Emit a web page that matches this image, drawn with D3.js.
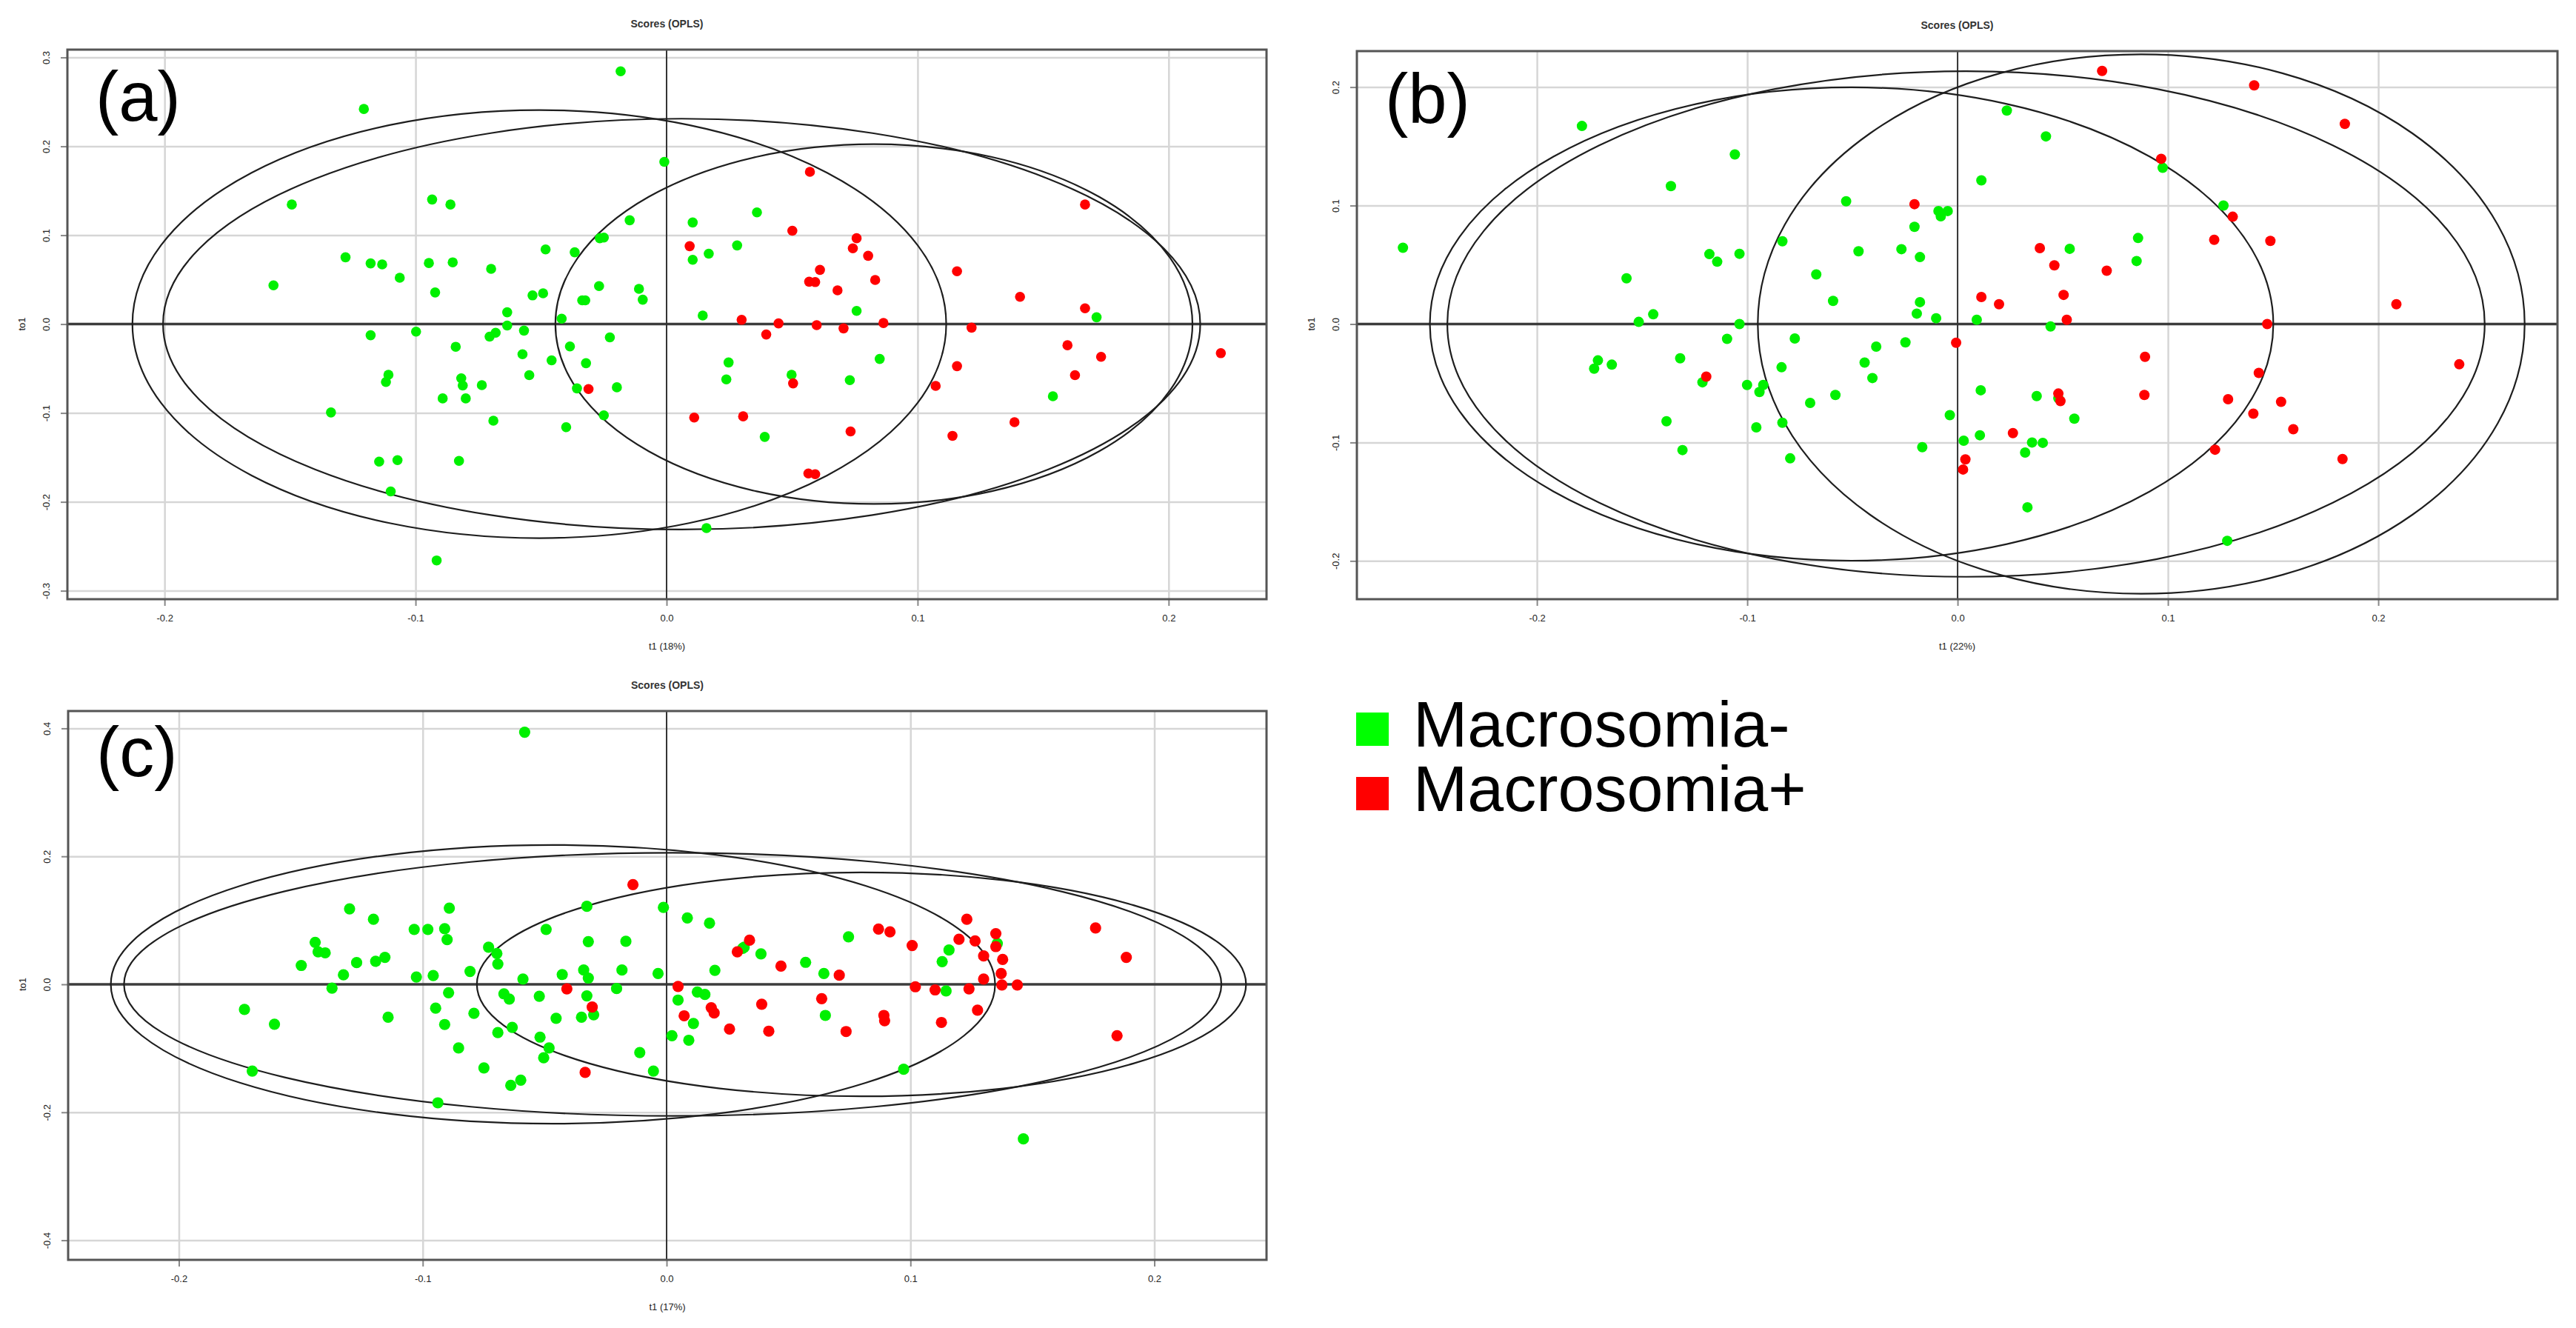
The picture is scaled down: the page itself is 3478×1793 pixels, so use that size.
<!DOCTYPE html>
<html>
<head>
<meta charset="utf-8">
<script src="https://cdn.jsdelivr.net/npm/d3@7/dist/d3.min.js"></script>
<style>
  body { margin: 0; background: #fff; }
  text { font-family: "Liberation Sans", Arial, sans-serif; }
</style>
</head>
<body>
<svg id="fig" width="3478" height="1793"></svg>
<script>
// ---- values: [t1, to1] ----
var aGreen = [[-0.0183,0.2844],[-0.1206,0.2420],[-0.0009,0.1826],[-0.1493,0.1345],[-0.0934,0.1402],[-0.0861,0.1345],
  [0.0360,0.1257],[-0.0147,0.1168],[0.0104,0.1143],[-0.0250,0.0974],[-0.0266,0.0966],[0.0281,0.0885],[-0.0482,0.0840],
  [-0.0366,0.0808],[0.0168,0.0792],[0.0104,0.0723],[-0.1279,0.0752],[-0.1179,0.0683],[-0.1133,0.0671],[-0.0947,0.0687],
  [-0.0852,0.0695],[-0.0699,0.0622],[-0.1063,0.0521],[-0.1566,0.0436],[-0.0922,0.0356],[-0.0534,0.0323],[-0.0492,0.0347],
  [-0.0269,0.0428],[-0.0110,0.0396],[-0.0095,0.0275],[-0.0336,0.0267],[-0.0324,0.0267],[-0.0635,0.0133],[-0.0418,0.0061],
  [0.0144,0.0097],[-0.0635,-0.0016],[-0.0568,-0.0073],[0.0757,0.0149],[0.1713,0.0077],[-0.1179,-0.0125],[-0.0998,-0.0085],
  [-0.0705,-0.0141],[-0.0681,-0.0097],[-0.0840,-0.0255],[-0.0385,-0.0251],[-0.0226,-0.0149],[-0.0574,-0.0339],
  [-0.0458,-0.0408],[-0.0321,-0.0440],[0.0247,-0.0432],[0.0849,-0.0392],[-0.1108,-0.0570],[-0.1118,-0.0651],
  [-0.0818,-0.0610],[-0.0812,-0.0691],[-0.0736,-0.0687],[-0.0547,-0.0574],[-0.0357,-0.0723],[-0.0198,-0.0711],
  [0.0238,-0.0622],[0.0498,-0.0570],[0.0730,-0.0630],[-0.0892,-0.0836],[-0.0800,-0.0836],[-0.1337,-0.0994],
  [-0.0690,-0.1087],[-0.0400,-0.1160],[-0.0250,-0.1026],[0.0391,-0.1269],[0.1539,-0.0812],[-0.1145,-0.1547],
  [-0.1072,-0.1531],[-0.0827,-0.1539],[-0.1099,-0.1883],[0.0159,-0.2295],[-0.0916,-0.2659]];
var aRed = [[0.0571,0.1713],[0.1667,0.1345],[0.0501,0.1051],[0.0757,0.0966],[0.0742,0.0853],[0.0092,0.0877],
  [0.0803,0.0768],[0.0611,0.0610],[0.0568,0.0477],[0.0592,0.0473],[0.0831,0.0497],[0.0681,0.0380],[0.1157,0.0594],
  [0.1408,0.0307],[0.1667,0.0178],[0.0299,0.0048],[0.0446,0.0008],[0.0598,-0.0012],[0.0705,-0.0048],[0.0864,0.0012],
  [0.1215,-0.0040],[0.0397,-0.0117],[0.1597,-0.0238],[0.1731,-0.0368],[0.2208,-0.0327],[0.1157,-0.0473],
  [0.1627,-0.0574],[0.0504,-0.0667],[0.1072,-0.0695],[-0.0311,-0.0731],[0.0110,-0.1051],[0.0305,-0.1038],
  [0.0733,-0.1208],[0.1386,-0.1103],[0.1139,-0.1257],[0.0565,-0.1681],[0.0592,-0.1689]];

var bGreen = [[-0.2637,0.0644],[-0.1786,0.1672],[-0.1059,0.1432],[-0.1363,0.1164],[0.0234,0.1802],[0.0420,0.1584],
  [0.0113,0.1213],[0.0975,0.1319],[-0.0530,0.1036],[-0.0091,0.0954],[-0.0047,0.0954],[-0.0080,0.0909],[-0.0205,0.0821],
  [0.1264,0.1000],[-0.0833,0.0699],[-0.0471,0.0614],[-0.0267,0.0632],[-0.0179,0.0565],[0.0533,0.0635],[0.0858,0.0726],
  [0.0851,0.0532],[-0.1180,0.0590],[-0.1143,0.0526],[-0.1037,0.0593],[-0.1574,0.0386],[-0.0672,0.0419],[-0.0592,0.0195],
  [-0.0179,0.0185],[-0.0194,0.0088],[-0.0102,0.0049],[0.0091,0.0036],[-0.1447,0.0082],[-0.1516,0.0018],[-0.1037,0.0000],
  [0.0442,-0.0021],[-0.1096,-0.0125],[-0.0774,-0.0122],[-0.0387,-0.0191],[-0.0248,-0.0155],[-0.1319,-0.0289],
  [-0.1710,-0.0307],[-0.1728,-0.0377],[-0.1644,-0.0343],[-0.0837,-0.0365],[-0.0442,-0.0325],[-0.0405,-0.0456],
  [-0.1213,-0.0492],[-0.1001,-0.0514],[-0.0924,-0.0514],[-0.0942,-0.0574],[-0.0581,-0.0599],[-0.0701,-0.0666],
  [0.0110,-0.0559],[0.0376,-0.0608],[0.0479,-0.0626],[-0.1384,-0.0821],[-0.0957,-0.0872],[-0.0833,-0.0833],
  [-0.0037,-0.0769],[0.0555,-0.0799],[-0.1308,-0.1064],[-0.0796,-0.1134],[-0.0168,-0.1040],[0.0029,-0.0985],
  [0.0106,-0.0939],[0.0354,-0.1000],[0.0405,-0.1003],[0.0321,-0.1085],[0.0332,-0.1547],[0.1282,-0.1830]];
var bRed = [[0.0687,0.2137],[0.1410,0.2015],[0.1841,0.1690],[0.0968,0.1395],[-0.0205,0.1012],[0.1308,0.0906],
  [0.1220,0.0711],[0.1487,0.0702],[0.0391,0.0641],[0.0460,0.0495],[0.0709,0.0450],[0.0113,0.0228],[0.0197,0.0167],
  [0.0504,0.0246],[0.0519,0.0036],[0.2086,0.0167],[0.1472,0.0000],[-0.0007,-0.0158],[0.0891,-0.0277],[0.2385,-0.0340],
  [0.1432,-0.0413],[-0.1195,-0.0444],[0.0479,-0.0587],[0.0489,-0.0650],[0.0888,-0.0599],[0.1286,-0.0635],
  [0.1538,-0.0657],[0.1406,-0.0757],[0.1596,-0.0888],[0.0263,-0.0921],[0.1224,-0.1061],[0.0037,-0.1143],
  [0.0026,-0.1228],[0.1830,-0.1140]];

var cGreen = [[-0.0582,0.3940],[-0.1300,0.1180],[-0.0891,0.1191],[-0.0327,0.1219],[-0.0013,0.1202],[-0.1202,0.1016],
  [0.0085,0.1038],[0.0176,0.0956],[-0.1035,0.0858],[-0.0979,0.0858],[-0.0910,0.0869],[-0.0494,0.0858],[-0.0900,0.0699],
  [-0.0321,0.0667],[-0.0167,0.0672],[0.0746,0.0743],[-0.1441,0.0656],[-0.1429,0.0508],[-0.1400,0.0492],[-0.0730,0.0579],
  [-0.0696,0.0481],[-0.0692,0.0317],[-0.1271,0.0339],[-0.1193,0.0361],[-0.1155,0.0421],[-0.1498,0.0295],[-0.1325,0.0148],
  [-0.1026,0.0115],[-0.0957,0.0137],[-0.0806,0.0202],[-0.0589,0.0082],[-0.0428,0.0153],[-0.0340,0.0224],[-0.0321,0.0098],
  [-0.0183,0.0224],[-0.0035,0.0169],[0.0198,0.0219],[0.0312,0.0563],[0.0318,0.0579],[0.0387,0.0475],[0.0570,0.0344],
  [0.0645,0.0169],[0.1158,0.0536],[0.1130,0.0355],[0.1356,0.0639],[-0.1372,-0.0060],[-0.0894,-0.0131],[-0.0667,-0.0148],
  [-0.0645,-0.0230],[-0.0522,-0.0186],[-0.0327,-0.0180],[-0.0205,-0.0066],[0.0047,-0.0246],[0.0126,-0.0120],
  [0.0157,-0.0158],[0.1146,-0.0104],[-0.1731,-0.0393],[-0.1608,-0.0623],[-0.1142,-0.0514],[-0.0947,-0.0372],
  [-0.0910,-0.0628],[-0.0790,-0.0454],[-0.0633,-0.0672],[-0.0692,-0.0754],[-0.0453,-0.0530],[-0.0349,-0.0514],
  [-0.0299,-0.0475],[-0.0519,-0.0825],[-0.0482,-0.0995],[-0.0504,-0.1148],[-0.0853,-0.0995],[-0.0110,-0.1066],
  [0.0022,-0.0803],[0.0091,-0.0874],[0.0110,-0.0612],[0.0651,-0.0486],[-0.0749,-0.1306],[-0.0639,-0.1579],
  [-0.0598,-0.1497],[-0.0054,-0.1355],[-0.1699,-0.1355],[-0.0938,-0.1852],[0.0972,-0.1328],[0.1463,-0.2415]];
var cRed = [[-0.0138,0.1557],[0.1231,0.1016],[0.1759,0.0880],[0.0869,0.0863],[0.0916,0.0820],[0.1350,0.0792],
  [0.1199,0.0705],[0.1265,0.0678],[0.0340,0.0689],[0.0290,0.0508],[0.1007,0.0607],[0.1350,0.0590],[0.1300,0.0443],
  [0.1378,0.0388],[0.1885,0.0421],[0.0469,0.0284],[0.0708,0.0142],[0.1372,0.0169],[0.1300,0.0082],[0.1375,-0.0011],
  [0.1438,-0.0011],[0.0047,-0.0033],[0.1020,-0.0038],[0.1101,-0.0087],[0.1240,-0.0071],[-0.0409,-0.0071],
  [0.0636,-0.0224],[0.0390,-0.0311],[0.1275,-0.0404],[-0.0305,-0.0355],[0.0183,-0.0366],[0.0195,-0.0448],
  [0.0072,-0.0492],[0.0891,-0.0486],[0.0894,-0.0568],[0.1127,-0.0596],[0.0258,-0.0699],[0.0419,-0.0732],
  [0.0736,-0.0738],[0.1847,-0.0803],[-0.0334,-0.1377]];

// Hotelling ellipses: [centre t1, centre to1, half-width, half-height]
var aEllipses = [[-0.0507,0,0.1621,0.2408],[0.0060,0,0.2066,0.2311],[0.0826,0,0.1269,0.2024]];
var bEllipses = [[-0.0504,0,0.2005,0.1998],[0.0040,0,0.2466,0.2134],[0.0873,0,0.1823,0.2277]];
var cEllipses = [[-0.0466,0,0.1813,0.2178],[0.0025,0,0.2250,0.2057],[0.0799,0,0.1577,0.1750]];

var aXDomain = [-0.2387, 0.239], aYDomain = [-0.3095, 0.3088];
var bXDomain = [-0.2856, 0.2852], bYDomain = [-0.2323, 0.2304];
var cXDomain = [-0.2454, 0.246], cYDomain = [-0.4306, 0.4271];

var aXTicks = [-0.2, -0.1, 0.0, 0.1, 0.2], aYTicks = [-0.3, -0.2, -0.1, 0.0, 0.1, 0.2, 0.3];
var bXTicks = [-0.2, -0.1, 0.0, 0.1, 0.2], bYTicks = [-0.2, -0.1, 0.0, 0.1, 0.2];
var cXTicks = [-0.2, -0.1, 0.0, 0.1, 0.2], cYTicks = [-0.4, -0.2, 0.0, 0.2, 0.4];

var titles = ['Scores (OPLS)', 'Scores (OPLS)', 'Scores (OPLS)'];
var xTitles = ['t1 (18%)', 't1 (22%)', 't1 (17%)'];
var yTitle = 'to1';
var panelLabels = ['(a)', '(b)', '(c)'];
var groups = ['Macrosomia-', 'Macrosomia+'];
var groupColors = ['#00f000', '#ff0000'];

var svg = d3.select('#fig');
var fmt = function (d) { return d3.format('.1f')(d).replace('\u2212', '-'); };

function ScorePlot(frame, xDomain, yDomain) {
    this.f = frame;
    this.g = svg.append('g');
    this.x = d3.scaleLinear().domain(xDomain).range([frame.left, frame.right]);
    this.y = d3.scaleLinear().domain(yDomain).range([frame.bottom, frame.top]);
}

ScorePlot.prototype = {
    grid: function (xTicks, yTicks) {
        var f = this.f, g = this.g;
        // light grid
        g.append('g').attr('transform', 'translate(0,' + f.bottom + ')')
            .call(d3.axisBottom(this.x).tickValues(xTicks.filter(function (d) { return d !== 0; }))
                .tickSize(-(f.bottom - f.top)).tickFormat(''))
            .call(function (s) {
                s.select('.domain').remove();
                s.selectAll('line').attr('stroke', '#d6d6d6').attr('stroke-width', 2.5);
            });
        g.append('g').attr('transform', 'translate(' + f.left + ',0)')
            .call(d3.axisLeft(this.y).tickValues(yTicks.filter(function (d) { return d !== 0; }))
                .tickSize(-(f.right - f.left)).tickFormat(''))
            .call(function (s) {
                s.select('.domain').remove();
                s.selectAll('line').attr('stroke', '#d6d6d6').attr('stroke-width', 2.5);
            });
        // zero lines
        g.append('line').attr('x1', f.left).attr('x2', f.right)
            .attr('y1', this.y(0)).attr('y2', this.y(0))
            .attr('stroke', '#3c3c3c').attr('stroke-width', 3.5);
        g.append('line').attr('x1', this.x(0)).attr('x2', this.x(0))
            .attr('y1', f.top).attr('y2', f.bottom)
            .attr('stroke', '#333').attr('stroke-width', 2);
    },

    axes: function (xTicks, yTicks) {
        var f = this.f, g = this.g;
        g.append('g').attr('transform', 'translate(0,' + f.bottom + ')')
            .call(d3.axisBottom(this.x).tickValues(xTicks).tickSize(9).tickPadding(12).tickFormat(fmt))
            .call(function (s) {
                s.select('.domain').remove();
                s.selectAll('line').attr('stroke', '#888').attr('stroke-width', 2);
                s.selectAll('text').attr('font-size', 13).attr('fill', '#222')
                    .attr('font-family', '"Liberation Sans", Arial, sans-serif');
            });
        g.append('g').attr('transform', 'translate(' + f.left + ',0)')
            .call(d3.axisLeft(this.y).tickValues(yTicks).tickSize(9).tickFormat(fmt))
            .call(function (s) {
                s.select('.domain').remove();
                s.selectAll('line').attr('stroke', '#888').attr('stroke-width', 2);
                s.selectAll('text').attr('font-size', 13).attr('fill', '#222')
                    .attr('font-family', '"Liberation Sans", Arial, sans-serif')
                    .attr('x', null).attr('dy', null)
                    .attr('text-anchor', 'middle')
                    .attr('transform', 'translate(-27,0) rotate(-90)')
                    .attr('dominant-baseline', 'middle');
            });
        // frame
        g.append('rect').attr('x', f.left).attr('y', f.top)
            .attr('width', f.right - f.left).attr('height', f.bottom - f.top)
            .attr('fill', 'none').attr('stroke', '#555').attr('stroke-width', 3);
    },

    ellipses: function (list) {
        var x = this.x, y = this.y;
        this.g.append('g').selectAll('ellipse').data(list).enter()
            .append('ellipse')
            .attr('cx', function (d) { return x(d[0]); })
            .attr('cy', function (d) { return y(d[1]); })
            .attr('rx', function (d) { return x(d[0] + d[2]) - x(d[0]); })
            .attr('ry', function (d) { return y(d[1]) - y(d[1] + d[3]); })
            .attr('fill', 'none').attr('stroke', '#1e1e1e').attr('stroke-width', 2.2);
    },

    points: function (pts, color, r) {
        var x = this.x, y = this.y;
        this.g.append('g').selectAll('circle').data(pts).enter()
            .append('circle')
            .attr('cx', function (d) { return x(d[0]); })
            .attr('cy', function (d) { return y(d[1]); })
            .attr('r', r).attr('fill', color);
    },

    labels: function (title, xTitle, panel, labelBase) {
        var f = this.f, g = this.g, cx = (f.left + f.right) / 2;
        g.append('text').attr('x', cx).attr('y', f.top - 30)
            .attr('text-anchor', 'middle').attr('font-size', 14).attr('font-weight', 'bold')
            .attr('fill', '#333').text(title);
        g.append('text').attr('x', cx).attr('y', f.bottom + 68)
            .attr('text-anchor', 'middle').attr('font-size', 13).attr('fill', '#222').text(xTitle);
        g.append('text').attr('transform', 'translate(' + (f.left - 60) + ',' + this.y(0) + ') rotate(-90)')
            .attr('text-anchor', 'middle').attr('dominant-baseline', 'middle')
            .attr('font-size', 13).attr('fill', '#222').text(yTitle);
        g.append('text').attr('x', f.left + 38).attr('y', labelBase)
            .attr('font-size', 94).attr('fill', '#000').text(panel);
    }
};

var specs = [
    { frame: { left: 91, top: 67, right: 1710, bottom: 809 }, xd: aXDomain, yd: aYDomain, xt: aXTicks, yt: aYTicks,
      ell: aEllipses, green: aGreen, red: aRed, r: 6.8, base: 163 },
    { frame: { left: 1832, top: 69, right: 3453, bottom: 809 }, xd: bXDomain, yd: bYDomain, xt: bXTicks, yt: bYTicks,
      ell: bEllipses, green: bGreen, red: bRed, r: 7, base: 166 },
    { frame: { left: 92, top: 960, right: 1710, bottom: 1701 }, xd: cXDomain, yd: cYDomain, xt: cXTicks, yt: cYTicks,
      ell: cEllipses, green: cGreen, red: cRed, r: 7.6, base: 1048 }
];

specs.forEach(function (s, i) {
    var p = new ScorePlot(s.frame, s.xd, s.yd);
    p.grid(s.xt, s.yt);
    p.ellipses(s.ell);
    p.points(s.green, groupColors[0], s.r);
    p.points(s.red, groupColors[1], s.r);
    p.axes(s.xt, s.yt);
    p.labels(titles[i], xTitles[i], panelLabels[i], s.base);
});

// legend
var legend = svg.append('g').attr('transform', 'translate(1831,962)');
var item = legend.selectAll('g').data(groups).enter().append('g')
    .attr('transform', function (d, i) { return 'translate(0,' + i * 87 + ')'; });
item.append('rect').attr('width', 44).attr('height', 45)
    .attr('fill', function (d, i) { return i === 0 ? '#00ff00' : groupColors[1]; });
item.append('text').attr('x', 77).attr('y', 46).attr('font-size', 88).attr('fill', '#000')
    .text(function (d) { return d; });
</script>
</body>
</html>
